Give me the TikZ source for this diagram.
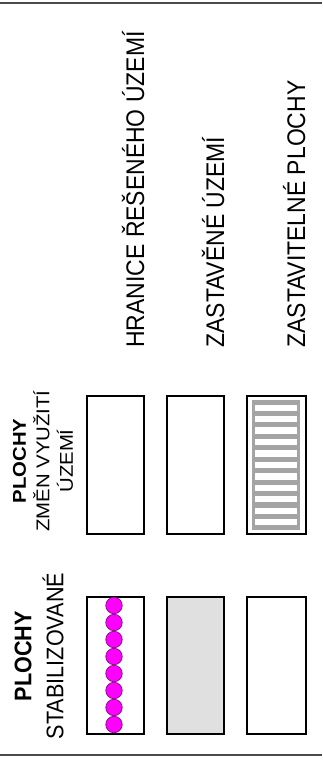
\documentclass[tikz,border=0pt]{standalone}
\usepackage{fontspec}
\setmainfont{Liberation Sans}
\newfontfamily\legfont[FakeStretch=0.9]{Liberation Sans}
\newfontfamily\legwide[FakeStretch=1.1]{Liberation Sans}
\definecolor{dotfill}{HTML}{FF00FF}
\definecolor{dotedge}{HTML}{8A1090}
\definecolor{builtgray}{HTML}{E0E0E0}
\definecolor{hatchgray}{HTML}{A4A4A4}
\definecolor{rulegray}{HTML}{4A4A4A}

\begin{document}
\begin{tikzpicture}[x=1pt, y=-1pt, thick,
    thinbox/.style={draw=black, line width=1.2pt},
    changebox/.style={draw=black, line width=1.6pt},
    legtext/.style={rotate=90, anchor=base west, inner sep=0pt,
        font=\legfont\fontsize{25.5}{30}\selectfont}]
    \useasboundingbox (0,0) rectangle (322,766);

    % horni a dolni linka
    \draw[rulegray, line width=1.3pt] (0,3) -- (322,3);
    \draw[rulegray, line width=1.3pt] (0,755) -- (322,755);

    % popisky vpravo
    \node[legtext] (hranice) at (144,348) {HRANICE ŘEŠENÉHO ÚZEMÍ};
    \node[legtext] (zastaveno) at (224,348) {ZASTAVĚNÉ ÚZEMÍ};
    \node[legtext] (zastavitelne) at (305,348) {ZASTAVITELNÉ PLOCHY};

    % popisky vlevo
    \node[rotate=90, align=center, inner sep=0pt,
        font=\legwide\fontsize{18.5}{23.5}\selectfont] (zmeny) at (43,461)
        {{\bfseries PLOCHY}\\ZMĚN VYUŽITÍ\\ÚZEMÍ};
    \node[rotate=90, align=center, inner sep=0pt,
        font=\legfont\fontsize{24}{32}\selectfont] (stab) at (39,656)
        {{\bfseries PLOCHY}\\STABILIZOVANÉ};

    % plochy zmen vyuziti
    \foreach \x/\w in {87/57, 167/57, 247/59} {
        \draw[changebox] (\x,396) rectangle (\x+\w,534);
        \draw[line width=2.6pt] (\x-0.8,396) -- (\x+\w+0.8,396);
        \draw[line width=2.6pt] (\x-0.8,534) -- (\x+\w+0.8,534);
    }
    % srafa zastavitelnych ploch
    \fill[hatchgray] (252,400) rectangle (300,530);
    \foreach \i in {0,...,10} {
        \fill[white] (254.5,404.5+\i*11.45) rectangle (297,410.8+\i*11.45);
    }

    % plochy stabilizovane
    \draw[thinbox] (87,597) rectangle (144,734);
    \draw[thinbox, fill=builtgray] (167,597) rectangle (224,734);
    \draw[thinbox] (247,597) rectangle (306,734);

    % hranice reseneho uzemi (body)
    \foreach \i in {0,...,7} {
        \draw[fill=dotfill, draw=dotedge, line width=0.8pt] (114,605.5+\i*17) circle (8.2pt);
    }
\end{tikzpicture}
\end{document}
